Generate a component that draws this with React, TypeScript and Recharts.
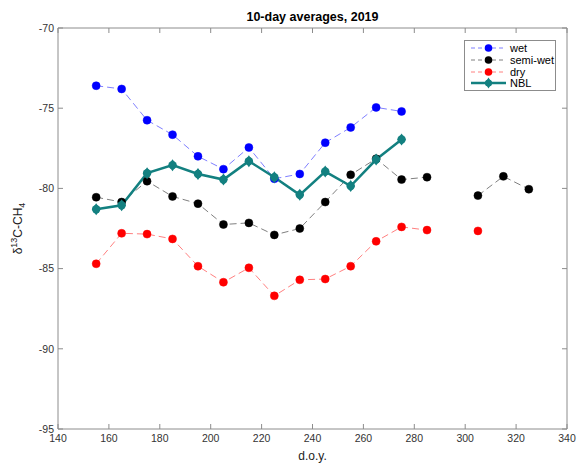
import React from 'react'
import { ComposedChart, Line, XAxis, YAxis } from 'recharts'

const doy = [155, 165, 175, 185, 195, 205, 215, 225, 235, 245, 255, 265, 275, 285, 295, 305, 315, 325]
const wet = [-73.6, -73.8, -75.75, -76.65, -78.0, -78.8, -77.45, -79.4, -79.1, -77.15, -76.2, -74.95, -75.2, null, null, null, null, null]
const semiWet = [-80.55, -80.85, -79.55, -80.5, -80.95, -82.25, -82.15, -82.9, -82.5, -80.85, -79.15, -78.15, -79.45, -79.3, null, -80.45, -79.25, -80.05]
const dry = [-84.7, -82.8, -82.85, -83.15, -84.85, -85.85, -84.95, -86.7, -85.7, -85.65, -84.85, -83.3, -82.4, -82.6, null, -82.65, null, null]
const nbl = [-81.3, -81.05, -79.05, -78.55, -79.1, -79.45, -78.3, -79.3, -80.4, -78.95, -79.85, -78.2, -76.95, null, null, null, null, null]

const xTicks = [140, 160, 180, 200, 220, 240, 260, 280, 300, 320, 340]
const yTicks = [-95, -90, -85, -80, -75, -70]

const data = doy.map((d, i) => ({ doy: d, wet: wet[i], semiWet: semiWet[i], dry: dry[i], nbl: nbl[i] }))

const FONT = '"Liberation Sans", Arial, Helvetica, sans-serif'
const AXIS = '#8c8c8c'
const TEAL = '#138080'

const legendItems = [
  { name: 'wet', line: '#7f7fff', dot: '#0000ff', dash: '4 3', width: 1 },
  { name: 'semi-wet', line: '#808080', dot: '#000000', dash: '4 3', width: 1 },
  { name: 'dry', line: '#ff8080', dot: '#ff0000', dash: '4 3', width: 1 },
  { name: 'NBL', line: TEAL, dot: TEAL, dash: undefined, width: 2.5 },
]

const NblDot = (props: any) => {
  const { cx, cy } = props
  if (cx == null || cy == null || props.value == null) return null
  return (
    <g>
      <circle cx={cx} cy={cy} r={4.2} fill={TEAL} />
      <polygon points={`${cx},${cy - 6} ${cx + 4.2},${cy} ${cx},${cy + 6} ${cx - 4.2},${cy}`} fill={TEAL} />
    </g>
  )
}

const LegendBox = () => (
  <div
    style={{
      position: 'absolute',
      left: 464,
      top: 40,
      width: 92,
      height: 51,
      border: '1px solid #8c8c8c',
      background: '#fff',
      boxSizing: 'border-box',
      paddingTop: 1,
      fontFamily: FONT,
      fontSize: 11,
      color: '#000',
    }}
  >
    {legendItems.map((it) => (
      <div key={it.name} style={{ display: 'flex', alignItems: 'center', height: 11.8 }}>
        <svg width={45} height={12} style={{ display: 'block' }}>
          <line x1={6} y1={6} x2={41} y2={6} stroke={it.line} strokeWidth={it.width} strokeDasharray={it.dash} />
          {it.name === 'NBL' ? (
            <g>
              <circle cx={23.5} cy={6} r={3.6} fill={it.dot} />
              <polygon points="23.5,0.5 27,6 23.5,11.5 20,6" fill={it.dot} />
            </g>
          ) : (
            <circle cx={23.5} cy={6} r={3.8} fill={it.dot} />
          )}
        </svg>
        <span style={{ lineHeight: '12px' }}>{it.name}</span>
      </div>
    ))}
  </div>
)

const YLabel = (props: any) => {
  const vb = props.viewBox || {}
  const x = vb.x + 14
  const y = vb.y + vb.height / 2
  return (
    <text x={x} y={y} transform={`rotate(-90, ${x}, ${y})`} textAnchor="middle" fontFamily={FONT} fontSize={12} fill="#222">
      <tspan>δ</tspan>
      <tspan fontSize={9} dy={-5}>13</tspan>
      <tspan dy={5}>C-CH</tspan>
      <tspan fontSize={9} dy={3}>4</tspan>
    </text>
  )
}

const tickStyle = { fontFamily: FONT, fontSize: 10.5, fill: '#333' }

export default function App() {
  return (
    <div style={{ position: 'absolute', left: 0, top: 0, width: 581, height: 463, background: '#fff' }}>
      <ComposedChart width={581} height={463} data={data} margin={{ top: 27, right: 13, bottom: 0, left: 8 }}>
        <XAxis
          dataKey="doy"
          type="number"
          domain={[140, 340]}
          ticks={xTicks}
          allowDataOverflow
          height={34}
          stroke={AXIS}
          tickSize={-5}
          tickMargin={11}
          tick={tickStyle}
          label={{ value: 'd.o.y.', position: 'insideBottom', offset: 3, style: { fontFamily: FONT, fontSize: 12, fill: '#222' } }}
        />
        <XAxis
          xAxisId="top"
          orientation="top"
          dataKey="doy"
          type="number"
          domain={[140, 340]}
          ticks={xTicks}
          allowDataOverflow
          height={1}
          stroke={AXIS}
          tickSize={-5}
          tickFormatter={() => ''}
          label={{ value: '10-day averages, 2019', position: 'top', offset: 6, style: { fontFamily: FONT, fontSize: 12.5, fontWeight: 'bold', fill: '#000' } }}
        />
        <YAxis
          type="number"
          domain={[-95, -70]}
          ticks={yTicks}
          allowDataOverflow
          width={50}
          stroke={AXIS}
          tickSize={-5}
          tickMargin={9}
          tick={tickStyle}
          label={<YLabel />}
        />
        <YAxis
          yAxisId="right"
          orientation="right"
          type="number"
          domain={[-95, -70]}
          ticks={yTicks}
          allowDataOverflow
          width={1}
          stroke={AXIS}
          tickSize={-5}
          tickFormatter={() => ''}
        />
        {/* invisible series so the top and right frame axes are drawn */}
        <Line
          xAxisId="top"
          yAxisId="right"
          dataKey="wet"
          stroke="none"
          dot={false}
          activeDot={false}
          legendType="none"
          isAnimationActive={false}
        />
        <Line
          dataKey="wet"
          name="wet"
          stroke="#7f7fff"
          strokeWidth={1}
          strokeDasharray="7 4"
          dot={{ r: 4, fill: '#0000ff', stroke: '#0000ff', strokeWidth: 0.5, strokeDasharray: '' }}
          connectNulls={false}
          isAnimationActive={false}
        />
        <Line
          dataKey="semiWet"
          name="semi-wet"
          stroke="#808080"
          strokeWidth={1}
          strokeDasharray="7 4"
          dot={{ r: 4, fill: '#000000', stroke: '#000000', strokeWidth: 0.5, strokeDasharray: '' }}
          connectNulls={false}
          isAnimationActive={false}
        />
        <Line
          dataKey="dry"
          name="dry"
          stroke="#ff8080"
          strokeWidth={1}
          strokeDasharray="7 4"
          dot={{ r: 4, fill: '#ff0000', stroke: '#ff0000', strokeWidth: 0.5, strokeDasharray: '' }}
          connectNulls={false}
          isAnimationActive={false}
        />
        <Line
          dataKey="nbl"
          name="NBL"
          stroke={TEAL}
          strokeWidth={2.5}
          dot={<NblDot />}
          connectNulls={false}
          isAnimationActive={false}
        />
      </ComposedChart>
      <LegendBox />
    </div>
  )
}
